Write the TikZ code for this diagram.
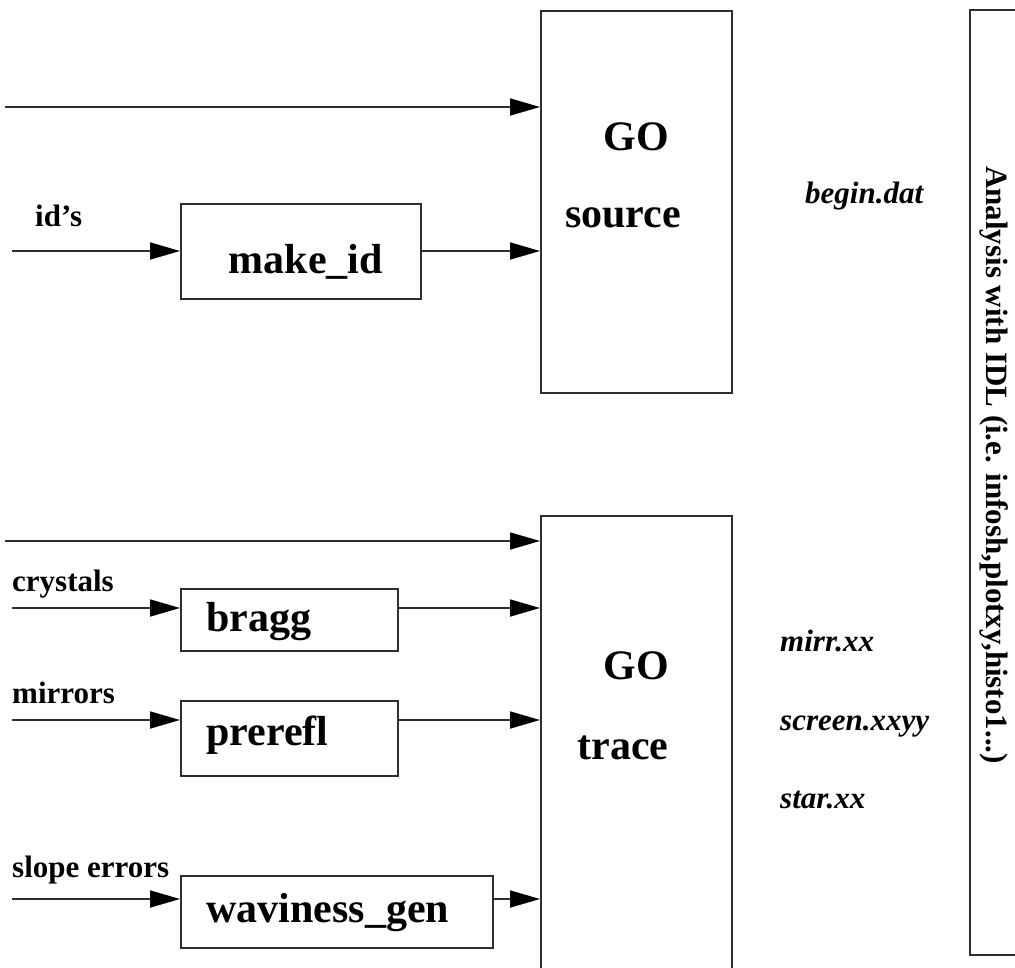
\documentclass[tikz,border=0pt]{standalone}
\usepackage{fontspec}
\setmainfont{Liberation Serif}
\usetikzlibrary{arrows.meta}
\begin{document}
\begin{tikzpicture}[x=1pt,y=-1pt,
  box/.style={draw=black!82,line width=1.8pt,fill=none},
  prog/.style={font=\fontsize{42}{42}\selectfont\bfseries},
  inlabel/.style={font=\fontsize{31}{31}\selectfont\bfseries,anchor=base west,inner sep=0pt},
  outfile/.style={font=\fontsize{31}{31}\selectfont\bfseries\itshape,anchor=base west,inner sep=0pt},
  flow/.style={draw=black!82,line width=1.8pt,-{Triangle[length=30pt,width=17pt,fill=black,color=black]}}]
\useasboundingbox (0,0) rectangle (1015,967);

% main programs
\node[box,minimum width=191pt,minimum height=382pt,anchor=north west] (source) at (540,10) {};
\node[prog] (sgo) at (636,137) {GO};
\node[prog] (stxt) at (623,218) {source};
\node[box,minimum width=191pt,minimum height=480pt,anchor=north west] (trace) at (540,515) {};
\node[prog] (tgo) at (636,666) {GO};
\node[prog] (ttxt) at (623,748) {trace};

% preprocessors
\node[box,minimum width=240pt,minimum height=95pt,anchor=north west] (makeid) at (180,203) {};
\node[prog] (tmakeid) at (306,262) {make\_id};
\node[box,minimum width=217pt,minimum height=62pt,anchor=north west] (bragg) at (180,588) {};
\node[prog,anchor=west] (tbragg) at (203,622) {bragg};
\node[box,minimum width=217pt,minimum height=75pt,anchor=north west] (prerefl) at (180,700) {};
\node[prog,anchor=west] (tprerefl) at (203,735) {prerefl};
\node[box,minimum width=312pt,minimum height=72pt,anchor=north west] (wav) at (180,875) {};
\node[prog,anchor=west] (twav) at (203,913) {waviness\_gen};

% input labels
\node[inlabel] (lid) at (35,226) {id's};
\node[inlabel] (lcr) at (12,591) {crystals};
\node[inlabel] (lmi) at (12,703) {mirrors};
\node[inlabel] (lsl) at (12,877) {slope errors};

% output files
\node[outfile] (fbegin) at (805,203) {begin.dat};
\node[outfile] (fmirr) at (780,651) {mirr.xx};
\node[outfile] (fscreen) at (780,730) {screen.xxyy};
\node[outfile] (fstar) at (780,808) {star.xx};

% analysis panel
\draw[draw=black!82,line width=1.8pt] (1025,10) -- (970,10) -- (970,955) -- (1025,955);
\node[font=\fontsize{31}{31}\selectfont\bfseries,rotate=-90] (idl) at (994,465) {Analysis with IDL (i.e. infosh,plotxy,histo1...)};

% start points of inputs
\coordinate (a0) at (5,107);
\coordinate (a1) at (12,251);
\coordinate (a2) at (5,541);
\coordinate (a3) at (12,608);
\coordinate (a4) at (12,720);
\coordinate (a5) at (12,899);

\draw[flow] (a0) -- (a0 -| source.west);
\draw[flow] (a1) -- (a1 -| makeid.west);
\draw[flow] (a1 -| makeid.east) -- (a1 -| source.west);
\draw[flow] (a2) -- (a2 -| trace.west);
\draw[flow] (a3) -- (a3 -| bragg.west);
\draw[flow] (a3 -| bragg.east) -- (a3 -| trace.west);
\draw[flow] (a4) -- (a4 -| prerefl.west);
\draw[flow] (a4 -| prerefl.east) -- (a4 -| trace.west);
\draw[flow] (a5) -- (a5 -| wav.west);
\draw[flow] (a5 -| wav.east) -- (a5 -| trace.west);
\end{tikzpicture}
\end{document}
